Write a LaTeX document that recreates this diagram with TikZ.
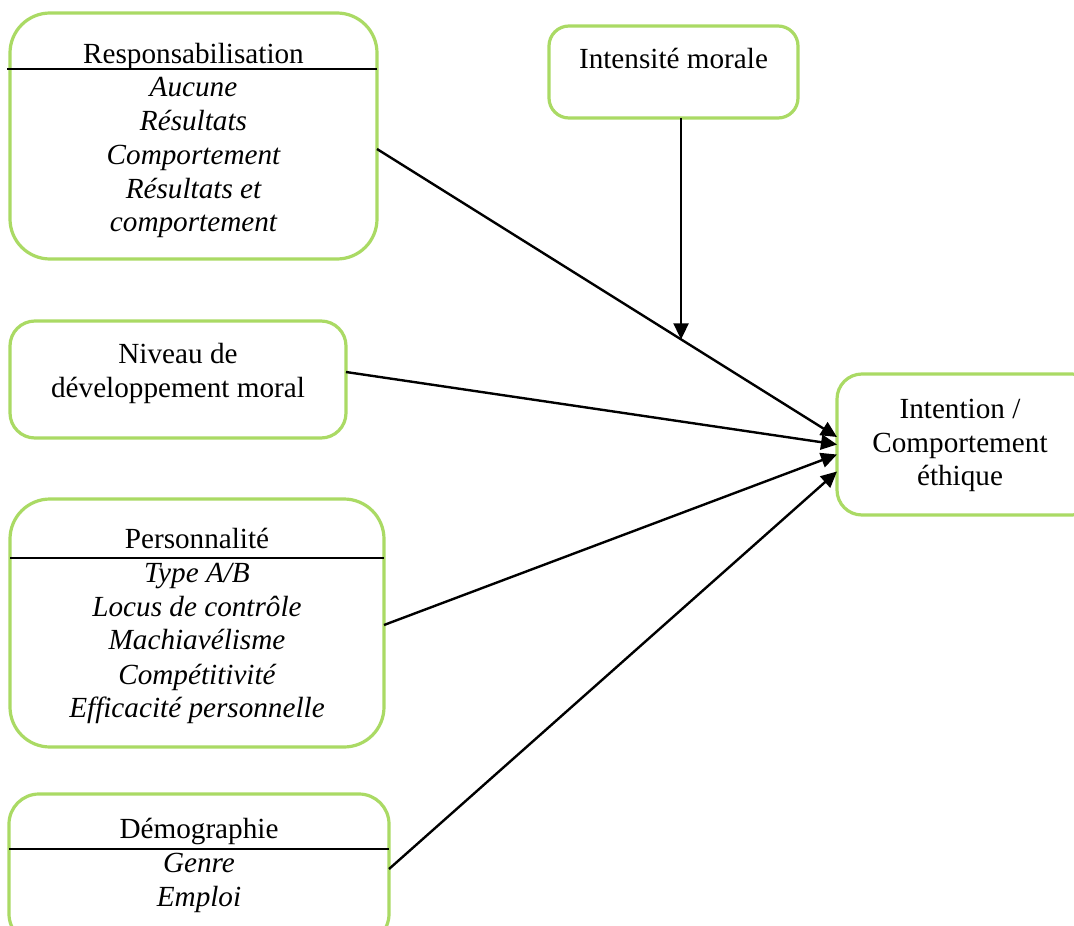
\documentclass[tikz,border=0pt]{standalone}
\usepackage{fontspec}
\setmainfont{Liberation Serif}
\usetikzlibrary{arrows.meta,calc}
\definecolor{boxgreen}{RGB}{170,218,100}
\begin{document}
\begin{tikzpicture}[x=1pt,y=-1pt,
  box/.style={draw=boxgreen, line width=3.2pt, fill=white, anchor=north west, inner sep=0pt, outer sep=0pt},
  txt/.style={anchor=base, inner sep=0pt, font=\fontsize{29.2}{34}\selectfont},
  itm/.style={anchor=base, inner sep=0pt, font=\fontsize{29.2}{34}\selectfont\itshape},
  sepline/.style={draw=black, line width=1.5pt},
  arr/.style={draw=black, line width=2.4pt, -{Triangle[length=16pt,width=15pt]}}]
\useasboundingbox (0,0) rectangle (1074,926);
\clip (0,0) rectangle (1074,926);

% Responsabilisation
\node[box, rounded corners=40pt, minimum width=367pt, minimum height=246pt] (resp) at (10,13) {};
\node[txt] (resp-t) at (193.5,63) {Responsabilisation};
\draw[sepline] ($(resp.north west)+(-3,56)$) -- ($(resp.north east)+(0,56)$);
\node[itm] (resp-1) at (193.5,96) {Aucune};
\node[itm] (resp-2) at (193.5,130) {Résultats};
\node[itm] (resp-3) at (193.5,164) {Comportement};
\node[itm] (resp-4) at (193.5,198) {Résultats et};
\node[itm] (resp-5) at (193.5,231) {comportement};

% Intensite morale
\node[box, rounded corners=20pt, minimum width=249pt, minimum height=92pt] (intens) at (549,26) {};
\node[txt] (intens-t) at (673.5,68) {Intensité morale};

% Niveau de developpement moral
\node[box, rounded corners=25pt, minimum width=336pt, minimum height=117pt] (niv) at (10,321) {};
\node[txt] (niv-1) at (178,363) {Niveau de};
\node[txt] (niv-2) at (178,397) {développement moral};

% Personnalite
\node[box, rounded corners=40pt, minimum width=374pt, minimum height=248pt] (pers) at (10,499) {};
\node[txt] (pers-t) at (197,548) {Personnalité};
\draw[sepline] ($(pers.north west)+(0,59)$) -- ($(pers.north east)+(0,59)$);
\node[itm] (pers-1) at (197,582) {Type A/B};
\node[itm] (pers-2) at (197,616) {Locus de contrôle};
\node[itm] (pers-3) at (197,649) {Machiavélisme};
\node[itm] (pers-4) at (197,684) {Compétitivité};
\node[itm] (pers-5) at (197,717) {Efficacité personnelle};

% Demographie
\node[box, rounded corners=30pt, minimum width=380pt, minimum height=150pt] (demo) at (9,794) {};
\node[txt] (demo-t) at (199,838) {Démographie};
\draw[sepline] ($(demo.north west)+(0,55)$) -- ($(demo.north east)+(0,55)$);
\node[itm] (demo-1) at (199,872) {Genre};
\node[itm] (demo-2) at (199,906) {Emploi};

% Intention / Comportement ethique
\node[box, rounded corners=25pt, minimum width=260pt, minimum height=141pt] (int) at (837,374) {};
\node[txt] (int-1) at (960,418) {Intention /};
\node[txt] (int-2) at (960,452) {Comportement};
\node[txt] (int-3) at (960,485) {éthique};

% Arrows
\draw[arr] ([yshift=-13pt]resp.east) -- ([yshift=7.5pt]int.west);
\path ([yshift=-13pt]resp.east) -- ([yshift=7.5pt]int.west) coordinate[pos=0.661] (meet);
\draw[arr] (intens.south -| meet) -- (meet);
\draw[arr] ([yshift=7.5pt]niv.east) -- (int.west);
\draw[arr] ([yshift=-2pt]pers.east) -- ([yshift=-10pt]int.west);
\draw[arr] (demo.east) -- ([yshift=-27pt]int.west);
\end{tikzpicture}
\end{document}
